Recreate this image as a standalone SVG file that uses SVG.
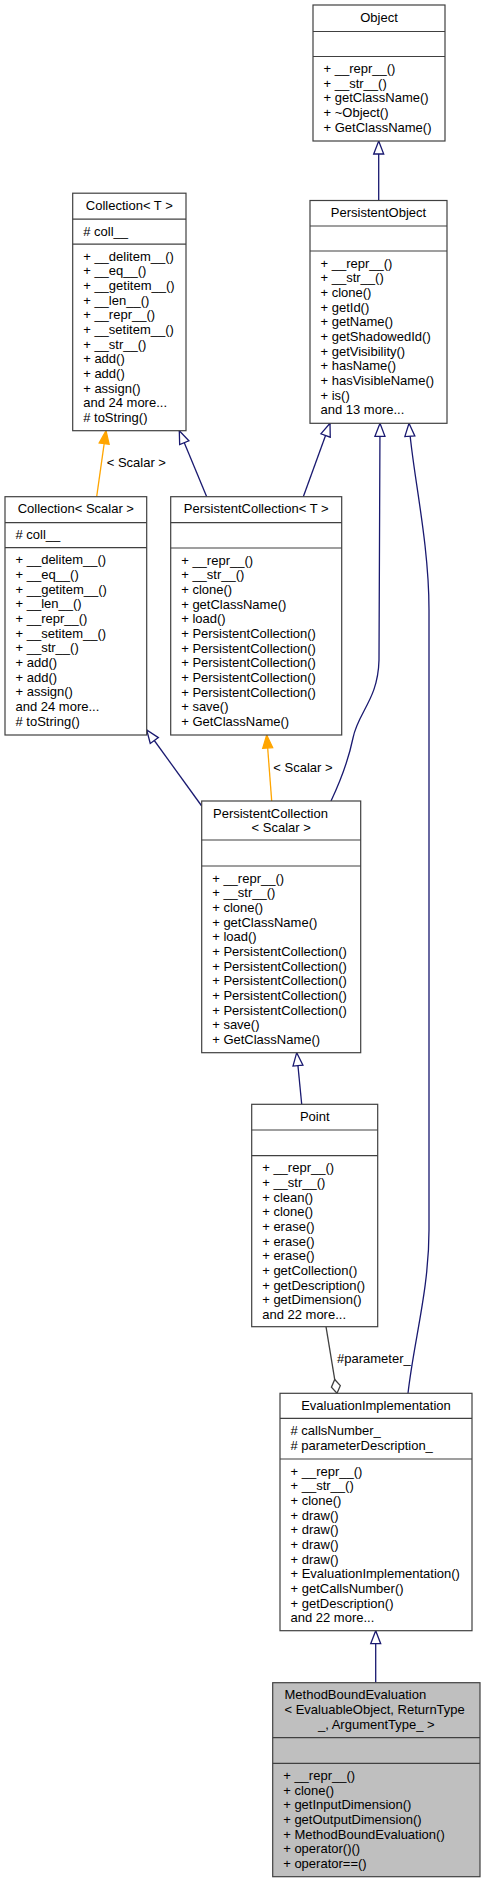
<svg xmlns="http://www.w3.org/2000/svg" width="484" height="1883" viewBox="0 0 484 1883">
<style>
.box{fill:#fff;stroke:#404040;stroke-width:1.2}
.sel{fill:#bfbfbf;stroke:#404040;stroke-width:1.2}
.sep{stroke:#404040;stroke-width:1.2}
text{font-family:"Liberation Sans",Arial,Helvetica,sans-serif;font-size:13px;fill:#000}
.c{text-anchor:middle}
.nav{fill:none;stroke:#191970;stroke-width:1.3}
.org{fill:none;stroke:#ffa500;stroke-width:1.3}
.agg{fill:none;stroke:#404040;stroke-width:1.3}
</style>
<defs>
<marker id="inh" markerUnits="userSpaceOnUse" markerWidth="16" markerHeight="14" refX="14" refY="6" orient="auto" viewBox="0 0 16 12">
<path d="M1,1 L14,6 L1,11 Z" fill="#fff" stroke="#191970" stroke-width="1.3"/>
</marker>
<marker id="tpl" markerUnits="userSpaceOnUse" markerWidth="16" markerHeight="14" refX="14" refY="6" orient="auto" viewBox="0 0 16 12">
<path d="M1,1 L14,6 L1,11 Z" fill="#ffa500" stroke="#ffa500" stroke-width="1.3"/>
</marker>
<marker id="dia" markerUnits="userSpaceOnUse" markerWidth="18" markerHeight="14" refX="16" refY="6" orient="auto" viewBox="0 0 18 12">
<path d="M2,6 L9,1.5 L16,6 L9,10.5 Z" fill="#fff" stroke="#404040" stroke-width="1.3"/>
</marker>
</defs>
<rect x="0" y="0" width="484" height="1883" fill="#fff"/>

<g id="connectors">
<path class="nav" d="M378.7,200.5 L378.7,141" marker-end="url(#inh)"/>
<path class="nav" d="M303.3,496.7 L330,423.3" marker-end="url(#inh)"/>
<path class="nav" d="M331,801 C340,782 348,762 353,738 C358,712 378,700 379,660 L380,423.3" marker-end="url(#inh)"/>
<path class="nav" d="M408,1393.3 C414,1340 429,1290 429,1230 L429,610 C429,540 412,470 409,423.3" marker-end="url(#inh)"/>
<path class="nav" d="M206.7,496.7 L179.3,430.7" marker-end="url(#inh)"/>
<path class="org" d="M96.7,496.7 L106,430.7" marker-end="url(#tpl)"/>
<text x="106.7" y="467">&lt; Scalar &gt;</text>
<path class="org" d="M271.7,801 L266.7,735" marker-end="url(#tpl)"/>
<text x="273.3" y="771.5">&lt; Scalar &gt;</text>
<path class="nav" d="M201.7,806 L146.7,730" marker-end="url(#inh)"/>
<path class="nav" d="M301.7,1104.3 L296.7,1052.7" marker-end="url(#inh)"/>
<path class="agg" d="M326,1326.7 L337,1393.3" marker-end="url(#dia)"/>
<text x="337" y="1363">#parameter_</text>
<path class="nav" d="M375.7,1682.7 L375.7,1630.7" marker-end="url(#inh)"/>
</g>

<g id="node-Object">
<rect class="box" x="313" y="5" width="132" height="136"/>
<line class="sep" x1="313" y1="31.5" x2="445" y2="31.5"/>
<line class="sep" x1="313" y1="56.5" x2="445" y2="56.5"/>
<text class="c" x="379" y="21.5">Object</text>
<text x="323.5" y="73">+ __repr__()</text>
<text x="323.5" y="87.7">+ __str__()</text>
<text x="323.5" y="102.3">+ getClassName()</text>
<text x="323.5" y="117">+ ~Object()</text>
<text x="323.5" y="131.7">+ GetClassName()</text>
</g>

<g id="node-PersistentObject">
<rect class="box" x="310" y="200.5" width="137" height="222.8"/>
<line class="sep" x1="310" y1="226" x2="447" y2="226"/>
<line class="sep" x1="310" y1="251" x2="447" y2="251"/>
<text class="c" x="378.5" y="217">PersistentObject</text>
<text x="320.5" y="267.5">+ __repr__()</text>
<text x="320.5" y="282.2">+ __str__()</text>
<text x="320.5" y="296.8">+ clone()</text>
<text x="320.5" y="311.5">+ getId()</text>
<text x="320.5" y="326.2">+ getName()</text>
<text x="320.5" y="340.8">+ getShadowedId()</text>
<text x="320.5" y="355.5">+ getVisibility()</text>
<text x="320.5" y="370.2">+ hasName()</text>
<text x="320.5" y="384.9">+ hasVisibleName()</text>
<text x="320.5" y="399.5">+ is()</text>
<text x="320.5" y="414.2">and 13 more...</text>
</g>

<g id="node-CollectionT">
<rect class="box" x="72.7" y="193.2" width="113.3" height="237.5"/>
<line class="sep" x1="72.7" y1="219.2" x2="186" y2="219.2"/>
<line class="sep" x1="72.7" y1="244.2" x2="186" y2="244.2"/>
<text class="c" x="129.3" y="209.7">Collection&lt; T &gt;</text>
<text x="83.2" y="235.7"># coll__</text>
<text x="83.2" y="260.7">+ __delitem__()</text>
<text x="83.2" y="275.4">+ __eq__()</text>
<text x="83.2" y="290">+ __getitem__()</text>
<text x="83.2" y="304.7">+ __len__()</text>
<text x="83.2" y="319.4">+ __repr__()</text>
<text x="83.2" y="334">+ __setitem__()</text>
<text x="83.2" y="348.7">+ __str__()</text>
<text x="83.2" y="363.4">+ add()</text>
<text x="83.2" y="378.1">+ add()</text>
<text x="83.2" y="392.7">+ assign()</text>
<text x="83.2" y="407.4">and 24 more...</text>
<text x="83.2" y="422.1"># toString()</text>
</g>

<g id="node-CollectionScalar">
<rect class="box" x="5" y="496.7" width="141.7" height="238.3"/>
<line class="sep" x1="5" y1="522.7" x2="146.7" y2="522.7"/>
<line class="sep" x1="5" y1="547.7" x2="146.7" y2="547.7"/>
<text class="c" x="75.8" y="513.2">Collection&lt; Scalar &gt;</text>
<text x="15.5" y="539.2"># coll__</text>
<text x="15.5" y="564.2">+ __delitem__()</text>
<text x="15.5" y="578.9">+ __eq__()</text>
<text x="15.5" y="593.5">+ __getitem__()</text>
<text x="15.5" y="608.2">+ __len__()</text>
<text x="15.5" y="622.9">+ __repr__()</text>
<text x="15.5" y="637.5">+ __setitem__()</text>
<text x="15.5" y="652.2">+ __str__()</text>
<text x="15.5" y="666.9">+ add()</text>
<text x="15.5" y="681.6">+ add()</text>
<text x="15.5" y="696.2">+ assign()</text>
<text x="15.5" y="710.9">and 24 more...</text>
<text x="15.5" y="725.6"># toString()</text>
</g>

<g id="node-PersistentCollectionT">
<rect class="box" x="170.7" y="496.7" width="171" height="238.3"/>
<line class="sep" x1="170.7" y1="522.7" x2="341.7" y2="522.7"/>
<line class="sep" x1="170.7" y1="548" x2="341.7" y2="548"/>
<text class="c" x="256.2" y="513.2">PersistentCollection&lt; T &gt;</text>
<text x="181.2" y="564.5">+ __repr__()</text>
<text x="181.2" y="579.2">+ __str__()</text>
<text x="181.2" y="593.8">+ clone()</text>
<text x="181.2" y="608.5">+ getClassName()</text>
<text x="181.2" y="623.2">+ load()</text>
<text x="181.2" y="637.8">+ PersistentCollection()</text>
<text x="181.2" y="652.5">+ PersistentCollection()</text>
<text x="181.2" y="667.2">+ PersistentCollection()</text>
<text x="181.2" y="681.9">+ PersistentCollection()</text>
<text x="181.2" y="696.5">+ PersistentCollection()</text>
<text x="181.2" y="711.2">+ save()</text>
<text x="181.2" y="725.9">+ GetClassName()</text>
</g>

<g id="node-PersistentCollectionScalar">
<rect class="box" x="201.7" y="801" width="159" height="251.7"/>
<line class="sep" x1="201.7" y1="840" x2="360.7" y2="840"/>
<line class="sep" x1="201.7" y1="866" x2="360.7" y2="866"/>
<text x="213" y="817.5">PersistentCollection</text>
<text class="c" x="281.2" y="832.2">&lt; Scalar &gt;</text>
<text x="212.2" y="882.5">+ __repr__()</text>
<text x="212.2" y="897.2">+ __str__()</text>
<text x="212.2" y="911.8">+ clone()</text>
<text x="212.2" y="926.5">+ getClassName()</text>
<text x="212.2" y="941.2">+ load()</text>
<text x="212.2" y="955.8">+ PersistentCollection()</text>
<text x="212.2" y="970.5">+ PersistentCollection()</text>
<text x="212.2" y="985.2">+ PersistentCollection()</text>
<text x="212.2" y="999.9">+ PersistentCollection()</text>
<text x="212.2" y="1014.5">+ PersistentCollection()</text>
<text x="212.2" y="1029.2">+ save()</text>
<text x="212.2" y="1043.9">+ GetClassName()</text>
</g>

<g id="node-Point">
<rect class="box" x="251.7" y="1104.3" width="126" height="222.4"/>
<line class="sep" x1="251.7" y1="1130" x2="377.7" y2="1130"/>
<line class="sep" x1="251.7" y1="1155.7" x2="377.7" y2="1155.7"/>
<text class="c" x="314.7" y="1120.8">Point</text>
<text x="262.2" y="1172.2">+ __repr__()</text>
<text x="262.2" y="1186.9">+ __str__()</text>
<text x="262.2" y="1201.5">+ clean()</text>
<text x="262.2" y="1216.2">+ clone()</text>
<text x="262.2" y="1230.9">+ erase()</text>
<text x="262.2" y="1245.5">+ erase()</text>
<text x="262.2" y="1260.2">+ erase()</text>
<text x="262.2" y="1274.9">+ getCollection()</text>
<text x="262.2" y="1289.6">+ getDescription()</text>
<text x="262.2" y="1304.2">+ getDimension()</text>
<text x="262.2" y="1318.9">and 22 more...</text>
</g>

<g id="node-EvaluationImplementation">
<rect class="box" x="280" y="1393.3" width="192" height="237.4"/>
<line class="sep" x1="280" y1="1418.3" x2="472" y2="1418.3"/>
<line class="sep" x1="280" y1="1459" x2="472" y2="1459"/>
<text class="c" x="376" y="1409.8">EvaluationImplementation</text>
<text x="290.5" y="1434.8"># callsNumber_</text>
<text x="290.5" y="1449.5"># parameterDescription_</text>
<text x="290.5" y="1475.5">+ __repr__()</text>
<text x="290.5" y="1490.2">+ __str__()</text>
<text x="290.5" y="1504.8">+ clone()</text>
<text x="290.5" y="1519.5">+ draw()</text>
<text x="290.5" y="1534.2">+ draw()</text>
<text x="290.5" y="1548.8">+ draw()</text>
<text x="290.5" y="1563.5">+ draw()</text>
<text x="290.5" y="1578.2">+ EvaluationImplementation()</text>
<text x="290.5" y="1592.9">+ getCallsNumber()</text>
<text x="290.5" y="1607.5">+ getDescription()</text>
<text x="290.5" y="1622.2">and 22 more...</text>
</g>

<g id="node-MethodBoundEvaluation">
<rect class="sel" x="272.7" y="1682.7" width="207.3" height="194"/>
<line class="sep" x1="272.7" y1="1737.7" x2="480" y2="1737.7"/>
<line class="sep" x1="272.7" y1="1763.3" x2="480" y2="1763.3"/>
<text x="284.5" y="1699.2">MethodBoundEvaluation</text>
<text x="284.5" y="1713.9">&lt; EvaluableObject, ReturnType</text>
<text class="c" x="376.3" y="1728.5">_, ArgumentType_ &gt;</text>
<text x="283.2" y="1779.8">+ __repr__()</text>
<text x="283.2" y="1794.5">+ clone()</text>
<text x="283.2" y="1809.1">+ getInputDimension()</text>
<text x="283.2" y="1823.8">+ getOutputDimension()</text>
<text x="283.2" y="1838.5">+ MethodBoundEvaluation()</text>
<text x="283.2" y="1853.1">+ operator()()</text>
<text x="283.2" y="1867.8">+ operator==()</text>
</g>
</svg>
